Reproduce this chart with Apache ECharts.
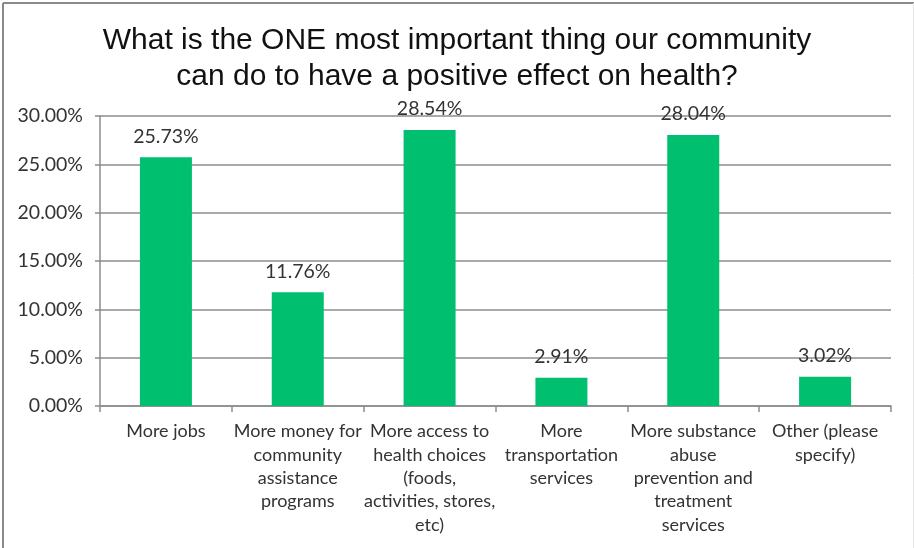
<!DOCTYPE html>
<html>
<head>
<meta charset="utf-8">
<title>Community health priorities</title>
<script src="https://cdn.jsdelivr.net/npm/echarts@6/dist/echarts.min.js"></script>
<style>
  html, body { margin: 0; padding: 0; background: #fff; }
  #chart { width: 914px; height: 548px; }
</style>
</head>
<body>
<div id="chart"></div>
<script>
// Survey responses: share choosing each option (percent)
const categories = [
  'More jobs',
  'More money for\ncommunity\nassistance\nprograms',
  'More access to\nhealth choices\n(foods,\nactivities, stores,\netc)',
  'More\ntransportation\nservices',
  'More substance\nabuse\nprevention and\ntreatment\nservices',
  'Other (please\nspecify)'
];
const shares = [25.73, 11.76, 28.54, 2.91, 28.04, 3.02];
const yTicks = { min: 0, max: 30, interval: 5 };
const titleText = 'What is the ONE most important thing our community\ncan do to have a positive effect on health?';

const labelFont = 'Lato, "Open Sans", sans-serif';
const axisGray = '#8c8c8c';
const textColor = '#333333';

const chart = echarts.init(document.getElementById('chart'), null, { renderer: 'canvas' });
chart.setOption({
  animation: false,
  backgroundColor: '#ffffff',
  title: {
    text: titleText,
    left: 'center',
    top: 18,
    textStyle: {
      fontFamily: '"Liberation Sans", Arial, sans-serif',
      fontSize: 30,
      fontWeight: 'normal',
      lineHeight: 36,
      color: '#111111'
    }
  },
  graphic: [
    { type: 'line', shape: { x1: 3, y1: 3, x2: 914, y2: 3 }, style: { stroke: '#8a8a8a', lineWidth: 2 } },
    { type: 'line', shape: { x1: 3, y1: 3, x2: 3, y2: 548 }, style: { stroke: '#8a8a8a', lineWidth: 2 } },
    { type: 'line', shape: { x1: 913.5, y1: 3, x2: 913.5, y2: 548 }, style: { stroke: '#e6e6e6', lineWidth: 1 } }
  ],
  grid: { left: 100, right: 23, top: 116, bottom: 142 },
  xAxis: {
    type: 'category',
    data: categories,
    axisLine: { lineStyle: { color: axisGray, width: 1.5 } },
    axisTick: { show: true, length: 6, lineStyle: { color: axisGray, width: 1.5 } },
    axisLabel: {
      interval: 0,
      margin: 14,
      fontFamily: labelFont,
      fontSize: 18,
      lineHeight: 23.3,
      color: textColor,
      align: 'center'
    }
  },
  yAxis: {
    type: 'value',
    min: yTicks.min,
    max: yTicks.max,
    interval: yTicks.interval,
    axisLine: { show: true, lineStyle: { color: axisGray, width: 1.5 } },
    axisTick: { show: true, length: 5, lineStyle: { color: axisGray, width: 1.5 } },
    splitLine: { show: true, lineStyle: { color: axisGray, width: 1.5 } },
    axisLabel: {
      margin: 17,
      fontFamily: labelFont,
      fontSize: 19.5,
      color: textColor,
      formatter: v => v.toFixed(2) + '%'
    }
  },
  series: [{
    type: 'bar',
    data: shares,
    barWidth: 52,
    itemStyle: { color: '#00bf6f' },
    label: {
      show: true,
      position: 'top',
      distance: 11,
      fontFamily: labelFont,
      fontSize: 19.5,
      color: textColor,
      formatter: p => p.value.toFixed(2) + '%'
    }
  }]
});
</script>
</body>
</html>
